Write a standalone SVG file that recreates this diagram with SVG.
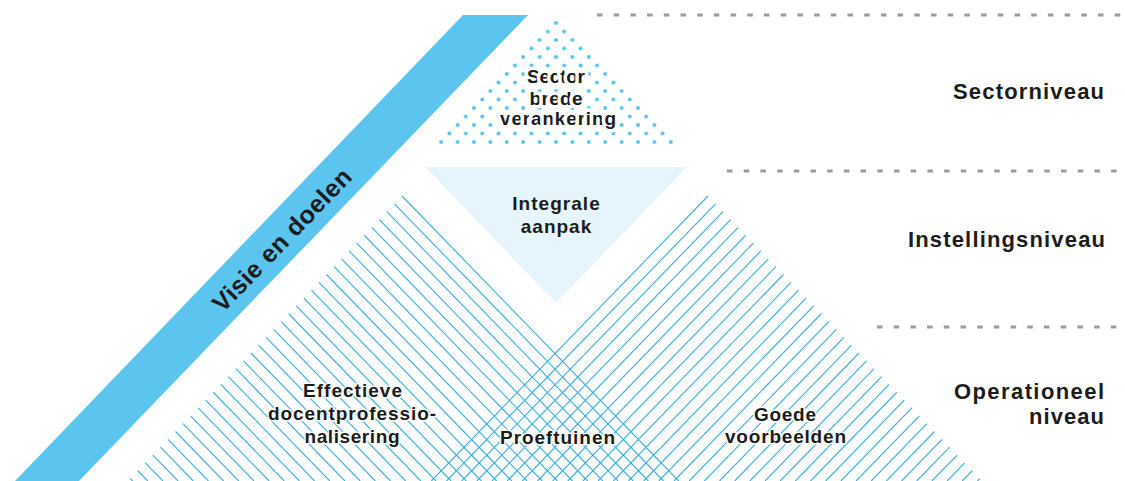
<svg xmlns="http://www.w3.org/2000/svg" xmlns:xlink="http://www.w3.org/1999/xlink" width="1125" height="481" viewBox="0 0 1125 481">
<style>
.t{font-family:"Liberation Sans",Arial,sans-serif;font-weight:bold;fill:#1c1c1c;}
.n{font-size:19px;text-anchor:middle;}
.lv{font-size:22px;text-anchor:end;}
.halo{paint-order:stroke;stroke:#fff;stroke-width:3px;stroke-linejoin:round;}
.halo2{paint-order:stroke;stroke:#fff;stroke-width:7px;stroke-linejoin:round;}
.hatch{fill:none;stroke:#3AAFE0;stroke-width:1.1;}
.dash{fill:none;stroke:#9B9B9B;stroke-width:2.8;stroke-dasharray:5.5 11.2;}
</style>
<defs>
<pattern id="dots" patternUnits="userSpaceOnUse" x="556" y="23" width="16.4" height="17">
<circle cx="0" cy="0" r="2" fill="#5BC5F0"/>
<circle cx="16.4" cy="0" r="2" fill="#5BC5F0"/>
<circle cx="0" cy="17" r="2" fill="#5BC5F0"/>
<circle cx="16.4" cy="17" r="2" fill="#5BC5F0"/>
<circle cx="8.2" cy="8.5" r="2" fill="#5BC5F0"/>
</pattern>
<path id="hatchL" class="hatch" d="M402 196L678.7 481M394.45 203.85L663.53 481M386.9 211.7L648.36 481M379.35 219.55L633.19 481M371.8 227.4L618.02 481M364.25 235.25L602.85 481M356.7 243.1L587.68 481M349.15 250.95L572.51 481M341.6 258.8L557.34 481M334.05 266.65L542.17 481M326.5 274.5L527 481M318.95 282.35L511.83 481M311.4 290.2L496.66 481M303.85 298.05L481.49 481M296.3 305.9L466.32 481M288.75 313.75L451.15 481M281.2 321.6L435.98 481M273.65 329.45L420.81 481M266.1 337.3L405.64 481M258.55 345.15L390.47 481M251 353L375.3 481M243.45 360.85L360.13 481M235.9 368.7L344.96 481M228.35 376.55L329.79 481M220.8 384.4L314.62 481M213.25 392.25L299.45 481M205.7 400.1L284.28 481M198.15 407.95L269.11 481M190.6 415.8L253.94 481M183.05 423.65L238.77 481M175.5 431.5L223.6 481M167.95 439.35L208.43 481M160.4 447.2L193.26 481M152.85 455.05L178.09 481M145.3 462.9L162.92 481M137.75 470.75L147.75 481M130.2 478.6L132.58 481"/>
</defs>
<rect width="1125" height="481" fill="#fff"/>

<g id="levels">
<line class="dash" x1="597" y1="15" x2="1125" y2="15"/>
<line class="dash" x1="727" y1="171" x2="1125" y2="171"/>
<line class="dash" x1="877" y1="327" x2="1125" y2="327"/>
<text class="t lv" x="1104" y="98.5" textLength="151" lengthAdjust="spacing">Sectorniveau</text>
<text class="t lv" x="1105" y="247" textLength="197" lengthAdjust="spacing">Instellingsniveau</text>
<text class="t lv" x="1104" y="398.5" textLength="150" lengthAdjust="spacing">Operationeel</text>
<text class="t lv" x="1104" y="424" textLength="75" lengthAdjust="spacing">niveau</text>
</g>

<g id="node-effectieve">
<use xlink:href="#hatchL" href="#hatchL"/>
</g>
<g id="node-goede">
<use xlink:href="#hatchL" href="#hatchL" transform="translate(1110,0) scale(-1,1)"/>
</g>

<g id="node-effectieve-label">
<text class="t n halo" x="352.5" y="397" textLength="99" lengthAdjust="spacing">Effectieve</text>
<text class="t n halo" x="352" y="420" textLength="168" lengthAdjust="spacing">docentprofessio-</text>
<text class="t n halo" x="352" y="443" textLength="95" lengthAdjust="spacing">nalisering</text>
</g>
<g id="node-proeftuinen">
<text class="t n halo" x="557.5" y="444" textLength="115" lengthAdjust="spacing">Proeftuinen</text>
</g>
<g id="node-goede-label">
<text class="t n halo" x="785" y="421" textLength="62" lengthAdjust="spacing">Goede</text>
<text class="t n halo" x="785.5" y="443" textLength="121" lengthAdjust="spacing">voorbeelden</text>
</g>

<g id="node-sector">
<polygon points="556,18.3 432.8,146 679.2,146" fill="url(#dots)"/>
<text class="t n halo2" x="556" y="83" textLength="58" lengthAdjust="spacing">Sector</text>
<text class="t n halo2" x="556" y="104.5" textLength="53" lengthAdjust="spacing">brede</text>
<text class="t n halo2" x="558" y="125" textLength="116" lengthAdjust="spacing">verankering</text>
</g>

<g id="node-integrale">
<polygon points="425,167 687,167 556,303" fill="#E6F4FC"/>
<text class="t n" x="556" y="210" textLength="87.5" lengthAdjust="spacing">Integrale</text>
<text class="t n" x="556" y="233" textLength="70.5" lengthAdjust="spacing">aanpak</text>
</g>

<g id="node-visie">
<polygon points="463,15 528,15 79,481 15,481" fill="#5BC5F0"/>
<text class="t" font-size="25" text-anchor="middle" transform="translate(288,246) rotate(-46)" textLength="188" lengthAdjust="spacing">Visie en doelen</text>
</g>

<g id="connectors"/>
</svg>
